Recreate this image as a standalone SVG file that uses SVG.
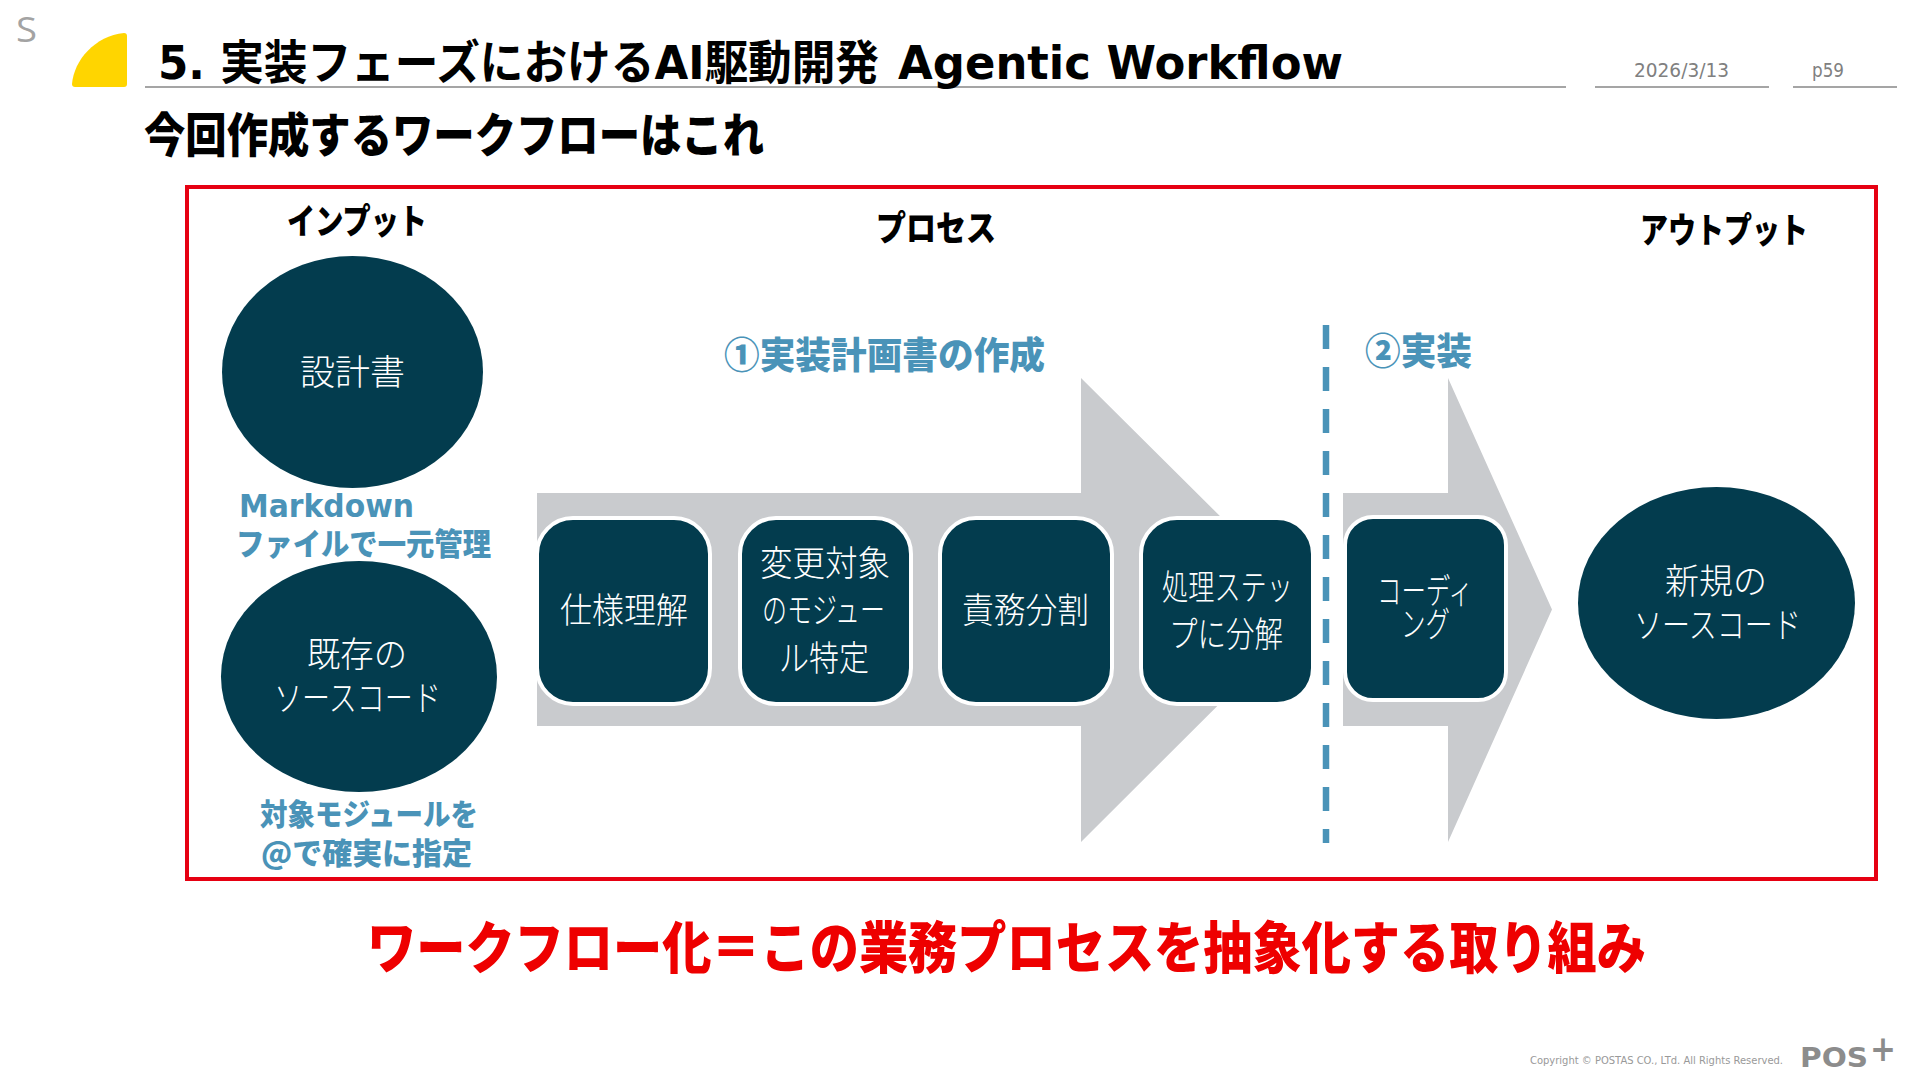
<svg xmlns="http://www.w3.org/2000/svg" width="1920" height="1080" viewBox="0 0 1920 1080">
<style>
text{font-family:"Noto Sans CJK JP","Noto Sans",sans-serif}
.h{font-weight:900;fill:#000}
.d{font-family:"DejaVu Sans","Noto Sans CJK JP",sans-serif;font-weight:700}
.b{font-weight:900;fill:#4a93b8}
.w{font-weight:300;fill:#fff;font-size:35px}
.n{fill:#033c4e}
.r{fill:#033c4e;stroke:#fff;stroke-width:4}
.a{fill:#c9cbce}
.l{stroke:#a5a5a5;stroke-width:2;fill:none}
.g{font-family:"DejaVu Sans",sans-serif;fill:#808080}
</style>
<rect width="1920" height="1080" fill="#fff"/>
<g id="header">
<text x="16" y="42" font-size="35" style="font-family:'Open Sans',sans-serif" fill="#a3a3a3" textLength="21" lengthAdjust="spacingAndGlyphs">S</text>
<path d="M75 87Q72 87 72 84C74 60 95 36 124 33Q127 33 127 36V84Q127 87 124 87Z" fill="#ffd500"/>
<path class="l" d="M145 87H1566M1595 87H1769M1793 87H1897"/>
<text class="d" x="158" y="79" font-size="47" fill="#000" textLength="721" lengthAdjust="spacingAndGlyphs">5. 実装フェーズにおけるAI駆動開発</text>
<text class="d" x="898" y="79" font-size="46" fill="#000" textLength="445" lengthAdjust="spacingAndGlyphs">Agentic Workflow</text>
<text class="g" x="1634" y="77" font-size="19" textLength="95" lengthAdjust="spacingAndGlyphs">2026/3/13</text>
<text class="g" x="1812" y="77" font-size="19" textLength="32" lengthAdjust="spacingAndGlyphs">p59</text>
<text class="h" x="144" y="152" font-size="47" textLength="620" lengthAdjust="spacingAndGlyphs">今回作成するワークフローはこれ</text>
</g>
<rect id="frame" x="187" y="187" width="1689" height="692" fill="none" stroke="#e60012" stroke-width="4"/>
<g id="labels">
<text class="h" x="287" y="234" font-size="35" textLength="140" lengthAdjust="spacingAndGlyphs">インプット</text>
<text class="h" x="876" y="241" font-size="35" textLength="120" lengthAdjust="spacingAndGlyphs">プロセス</text>
<text class="h" x="1640" y="243" font-size="35" textLength="168" lengthAdjust="spacingAndGlyphs">アウトプット</text>
<text class="b" x="724" y="369" font-size="37" textLength="321" lengthAdjust="spacingAndGlyphs">①実装計画書の作成</text>
<text class="b" x="1365" y="365" font-size="37" textLength="107" lengthAdjust="spacingAndGlyphs">②実装</text>
<text class="d" fill="#4a93b8" x="239" y="517" font-size="32" textLength="175" lengthAdjust="spacingAndGlyphs">Markdown</text>
<text class="b" x="236" y="555" font-size="31" textLength="255" lengthAdjust="spacingAndGlyphs">ファイルで一元管理</text>
<text class="b" x="260" y="825" font-size="30" textLength="218" lengthAdjust="spacingAndGlyphs">対象モジュールを</text>
<text class="b" x="261" y="864" font-size="30" textLength="211" lengthAdjust="spacingAndGlyphs">@で確実に指定</text>
<text x="367" y="968" font-size="56" font-weight="900" fill="#ee0000" textLength="1279" lengthAdjust="spacingAndGlyphs">ワークフロー化＝この業務プロセスを抽象化する取り組み</text>
</g>
<g id="connectors">
<path id="arrow1" class="a" d="M537 493H1081V378L1314 609.5L1081 842V726H537Z"/>
<path id="arrow2" class="a" d="M1343 493H1448V378L1552 609.5L1448 842V726H1343Z"/>
<path id="divider" d="M1326 325V843" fill="none" stroke="#4a93b8" stroke-width="6.5" stroke-dasharray="24 18"/>
</g>
<g id="node-design"><ellipse class="n" cx="352.5" cy="372" rx="130.5" ry="116"/><text class="w" x="300" y="385" font-size="35" textLength="105" lengthAdjust="spacingAndGlyphs">設計書</text></g>
<g id="node-source"><ellipse class="n" cx="359" cy="676.5" rx="138" ry="115.5"/><text class="w" x="307" y="667" textLength="100" lengthAdjust="spacingAndGlyphs">既存の</text><text class="w" x="274" y="711" textLength="167" lengthAdjust="spacingAndGlyphs">ソースコード</text></g>
<g id="node-step1"><rect class="r" x="537" y="518" width="173" height="186" rx="36"/><text class="w" x="560" y="623" textLength="128" lengthAdjust="spacingAndGlyphs">仕様理解</text></g>
<g id="node-step2"><rect class="r" x="740" y="518" width="171" height="186" rx="36"/><text class="w" x="760" y="576" textLength="130" lengthAdjust="spacingAndGlyphs">変更対象</text><text class="w" x="762" y="623" textLength="123" lengthAdjust="spacingAndGlyphs">のモジュー</text><text class="w" x="779" y="671" textLength="90" lengthAdjust="spacingAndGlyphs">ル特定</text></g>
<g id="node-step3"><rect class="r" x="940" y="518" width="172" height="186" rx="36"/><text class="w" x="962" y="623" textLength="127" lengthAdjust="spacingAndGlyphs">責務分割</text></g>
<g id="node-step4"><rect class="r" x="1141" y="518" width="172" height="186" rx="36"/><text class="w" x="1162" y="600" textLength="131" lengthAdjust="spacingAndGlyphs">処理ステッ</text><text class="w" x="1169" y="647" textLength="114" lengthAdjust="spacingAndGlyphs">プに分解</text></g>
<g id="node-step5"><rect class="r" x="1345" y="517" width="161" height="183" rx="28"/><text class="w" x="1377" y="604" textLength="96" lengthAdjust="spacingAndGlyphs">コーディ</text><text class="w" x="1401" y="637" textLength="49" lengthAdjust="spacingAndGlyphs">ング</text></g>
<g id="node-output"><ellipse class="n" cx="1716.5" cy="603" rx="138.5" ry="116"/><text class="w" x="1665" y="594" textLength="102" lengthAdjust="spacingAndGlyphs">新規の</text><text class="w" x="1634" y="638" textLength="167" lengthAdjust="spacingAndGlyphs">ソースコード</text></g>
<g id="footer">
<text x="1530" y="1064" font-size="11" fill="#999" style="font-family:'DejaVu Sans',sans-serif" textLength="253" lengthAdjust="spacingAndGlyphs">Copyright © POSTAS CO., LTd. All Rights Reserved.</text>
<text x="1800" y="1067" font-size="26" font-weight="700" fill="#8c8c8c" style="font-family:'DejaVu Sans',sans-serif" textLength="68" lengthAdjust="spacingAndGlyphs">POS</text>
<text x="1870" y="1061" font-size="36" font-weight="700" fill="#8c8c8c" style="font-family:'DejaVu Sans',sans-serif" textLength="26" lengthAdjust="spacingAndGlyphs">+</text>
</g>
</svg>
